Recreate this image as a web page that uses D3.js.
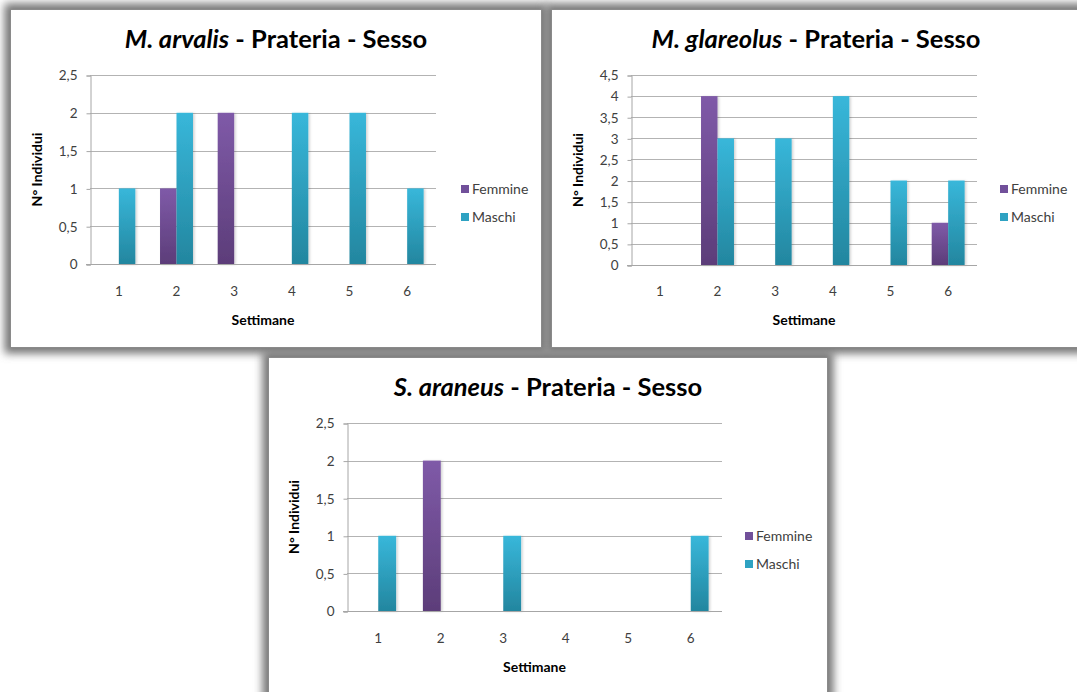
<!DOCTYPE html>
<html>
<head>
<meta charset="utf-8">
<script src="https://cdn.jsdelivr.net/npm/d3@7"></script>
<style>
  html, body { margin: 0; padding: 0; background: #ffffff; }
  svg { display: block; font-family: Lato, "Open Sans", sans-serif; }
</style>
</head>
<body>
<svg id="chart" width="1077" height="692"></svg>
<script>
// Weekly captures by sex, grassland site ("Prateria")
const weeks = ["1", "2", "3", "4", "5", "6"];
const seriesNames = ["Femmine", "Maschi"];

const arvalisFemmine = [0, 1, 2, 0, 0, 0];
const arvalisMaschi  = [1, 2, 0, 2, 2, 1];
const arvalisTicks   = [0, 0.5, 1, 1.5, 2, 2.5];

const glareolusFemmine = [0, 4, 0, 0, 0, 1];
const glareolusMaschi  = [0, 3, 3, 4, 2, 2];
const glareolusTicks   = [0, 0.5, 1, 1.5, 2, 2.5, 3, 3.5, 4, 4.5];

const araneusFemmine = [0, 2, 0, 0, 0, 0];
const araneusMaschi  = [1, 0, 1, 0, 0, 1];
const araneusTicks   = [0, 0.5, 1, 1.5, 2, 2.5];

const svg = d3.select("#chart");
const defs = svg.append("defs");

// soft grey halo around each chart frame
const halo = defs.append("filter").attr("id", "halo")
  .attr("x", "-10%").attr("y", "-10%").attr("width", "120%").attr("height", "120%");
halo.append("feGaussianBlur").attr("stdDeviation", 4.5);

// faint shadow under each bar
const barShadow = defs.append("filter").attr("id", "barShadow")
  .attr("x", "-50%").attr("y", "-10%").attr("width", "200%").attr("height", "120%");
barShadow.append("feDropShadow").attr("dx", 1.5).attr("dy", 0.5)
  .attr("stdDeviation", 1).attr("flood-color", "#000").attr("flood-opacity", 0.18);

function vGrad(id, top, bottom) {
  const g = defs.append("linearGradient").attr("id", id)
    .attr("x1", 0).attr("y1", 0).attr("x2", 0).attr("y2", 1);
  g.append("stop").attr("offset", "0%").attr("stop-color", top);
  g.append("stop").attr("offset", "100%").attr("stop-color", bottom);
}
vGrad("gFemmine", "#7f5aa8", "#5c3d79");
vGrad("gMaschi", "#38b7da", "#23869f");
const fills = { Femmine: "url(#gFemmine)", Maschi: "url(#gMaschi)" };
const legendFills = { Femmine: "#71509a", Maschi: "#2ea2c2" };

const fmt = v => String(v).replace(".", ",");

const panels = [
  {
    species: "M. arvalis", femmine: arvalisFemmine, maschi: arvalisMaschi, ticks: arvalisTicks,
    frame: { x: 10.5, y: 9.5, w: 531, h: 338 },
    plot: { left: 90, right: 436, bottom: 264, top: 75 },
    titleX: 276, titleY: 48, yTitleX: 42, xTitleY: 325, tickY: 295,
    legendX: 461, legendY: [185, 213]
  },
  {
    species: "M. glareolus", femmine: glareolusFemmine, maschi: glareolusMaschi, ticks: glareolusTicks,
    frame: { x: 551.5, y: 9.5, w: 540, h: 338 },
    plot: { left: 631, right: 977, bottom: 265, top: 75 },
    titleX: 816, titleY: 48, yTitleX: 583, xTitleY: 325, tickY: 295,
    legendX: 1000, legendY: [185, 213]
  },
  {
    species: "S. araneus", femmine: araneusFemmine, maschi: araneusMaschi, ticks: araneusTicks,
    frame: { x: 268.5, y: 357.5, w: 559, h: 345 },
    plot: { left: 347, right: 722, bottom: 611, top: 423 },
    titleX: 548, titleY: 396, yTitleX: 299, xTitleY: 672, tickY: 642,
    legendX: 745, legendY: [532, 560]
  }
];

// frames: halos first so neighbouring shadows sit under every panel
panels.forEach(p => {
  const f = p.frame;
  svg.append("rect")
    .attr("x", f.x - 6).attr("y", f.y - 6).attr("width", f.w + 12).attr("height", f.h + 12)
    .attr("fill", "#747474").attr("filter", "url(#halo)");
});
panels.forEach(p => {
  const f = p.frame;
  svg.append("rect")
    .attr("x", f.x).attr("y", f.y).attr("width", f.w).attr("height", f.h)
    .attr("fill", "#ffffff").attr("stroke", "#8a8a8a").attr("stroke-width", 1);
});

panels.forEach(p => {
  const g = svg.append("g");
  const pl = p.plot;
  const yMax = p.ticks[p.ticks.length - 1];

  const x0 = d3.scaleBand().domain(weeks).range([pl.left, pl.right]).paddingInner(0).paddingOuter(0);
  // gap width of 150%: two bars + 1.5 bar-widths of gap per category
  const barW = x0.bandwidth() / 3.5;
  const x1 = d3.scaleBand().domain(seriesNames)
    .range([x0.bandwidth() / 2 - barW, x0.bandwidth() / 2 + barW]);
  const y = d3.scaleLinear().domain([0, yMax]).range([pl.bottom, pl.top]);

  // horizontal gridlines
  g.append("g").selectAll("line").data(p.ticks.filter(t => t > 0)).join("line")
    .attr("x1", pl.left).attr("x2", pl.right)
    .attr("y1", d => Math.round(y(d)) + 0.5).attr("y2", d => Math.round(y(d)) + 0.5)
    .attr("stroke", "#b3b3b3").attr("stroke-width", 1);

  // y axis
  const yAxis = g.append("g")
    .attr("transform", `translate(${pl.left + 0.5},0.5)`)
    .call(d3.axisLeft(y).tickValues(p.ticks).tickFormat(fmt).tickSize(4).tickPadding(9));
  yAxis.select(".domain").attr("stroke", "#a6a6a6");
  yAxis.selectAll(".tick line").attr("stroke", "#a6a6a6");
  yAxis.selectAll(".tick text").attr("fill", "#404040").attr("font-size", 13.5)
    .attr("font-family", "Lato, sans-serif");

  // bars
  const rows = weeks.map((w, i) => ({ week: w, Femmine: p.femmine[i], Maschi: p.maschi[i] }));
  g.append("g").selectAll("g").data(rows).join("g")
    .attr("transform", d => `translate(${x0(d.week)},0)`)
    .selectAll("rect")
    .data(d => seriesNames.map(s => ({ s, v: d[s] })).filter(e => e.v > 0))
    .join("rect")
    .attr("x", d => x1(d.s)).attr("width", x1.bandwidth())
    .attr("y", d => y(d.v)).attr("height", d => y(0) - y(d.v))
    .attr("fill", d => fills[d.s]).attr("filter", "url(#barShadow)");

  // x axis baseline and labels
  const xAxis = g.append("g")
    .attr("transform", `translate(0,${Math.round(y(0)) + 0.5})`)
    .call(d3.axisBottom(x0).tickSize(0).tickPadding(0));
  xAxis.select(".domain").attr("stroke", "#a6a6a6")
    .attr("d", `M${pl.left - 4},0H${pl.right}`);
  xAxis.selectAll(".tick text").attr("fill", "#404040").attr("font-size", 13.5)
    .attr("font-family", "Lato, sans-serif")
    .attr("dy", 0).attr("y", p.tickY - Math.round(y(0)));

  // titles
  const title = g.append("text").attr("x", p.titleX).attr("y", p.titleY)
    .attr("text-anchor", "middle").attr("font-size", 25.5).attr("font-weight", "bold")
    .attr("fill", "#000");
  title.append("tspan").attr("font-style", "italic").text(p.species);
  title.append("tspan").text(" - Prateria - Sesso");

  g.append("text")
    .attr("transform", `translate(${p.yTitleX},${(pl.top + pl.bottom) / 2}) rotate(-90)`)
    .attr("text-anchor", "middle").attr("font-size", 14).attr("font-weight", "bold")
    .attr("fill", "#000").text("N° Individui");

  g.append("text").attr("x", (pl.left + pl.right) / 2).attr("y", p.xTitleY)
    .attr("text-anchor", "middle").attr("font-size", 14).attr("font-weight", "bold")
    .attr("fill", "#000").text("Settimane");

  // legend
  const lg = g.append("g");
  seriesNames.forEach((s, i) => {
    lg.append("rect").attr("x", p.legendX).attr("y", p.legendY[i])
      .attr("width", 8).attr("height", 8).attr("fill", legendFills[s]);
    lg.append("text").attr("x", p.legendX + 11).attr("y", p.legendY[i] + 9)
      .attr("font-size", 14).attr("fill", "#404040").text(s);
  });
});
</script>
</body>
</html>
